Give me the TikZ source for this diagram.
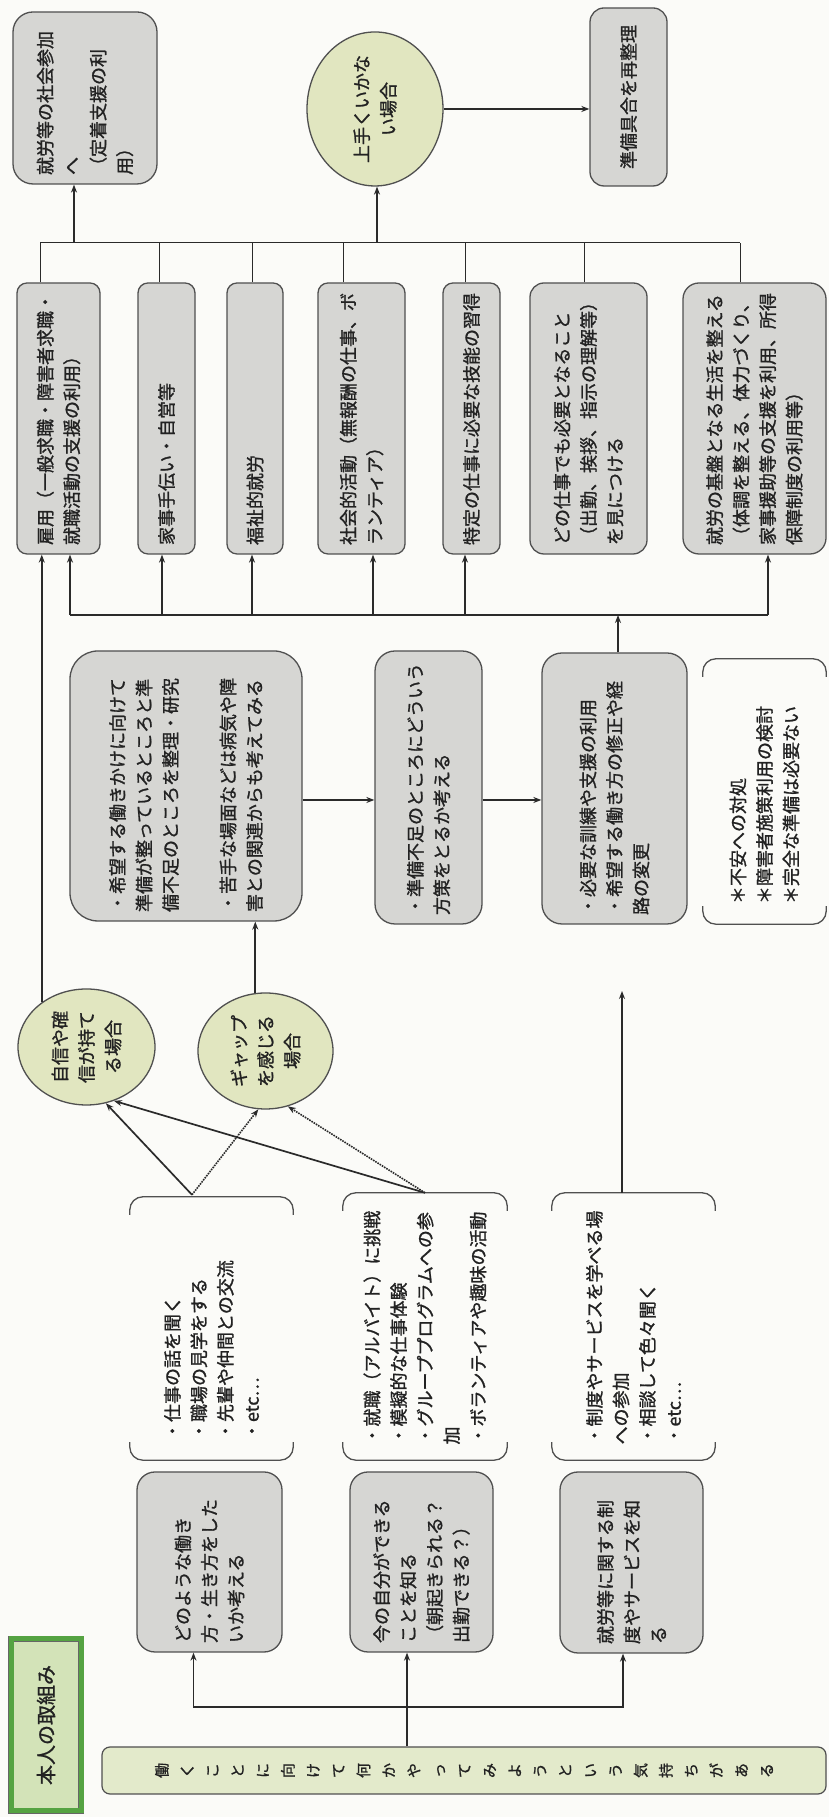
\documentclass[tikz,border=0pt]{standalone}
\usepackage{fontspec}
\usepackage{tikz}
\usetikzlibrary{shapes.geometric,arrows.meta,calc}
\newfontfamily\jpfont[FakeBold=1.2]{Noto Sans CJK JP}
\newcommand{\jpSize}[0]{\fontsize{18}{26.5}\selectfont}
\definecolor{pageBg}{HTML}{FBFBF8}
\definecolor{boxGray}{HTML}{D6D6D3}
\definecolor{edgeGray}{HTML}{505050}
\definecolor{ovalGreen}{HTML}{E1E6C0}
\definecolor{stripGreen}{HTML}{E3EACB}
\definecolor{titleGreen}{HTML}{D3E3B8}
\definecolor{bevelGreen}{HTML}{55A342}
\definecolor{lineDark}{HTML}{2A2A2A}
\definecolor{inkGray}{HTML}{222222}

\begin{document}
\begin{tikzpicture}[x=1pt, y=1pt]
  \tikzset{
    jp/.style={font=\jpfont\jpSize, text=inkGray},
    boxSize/.style n args={3}{minimum width=#1pt, minimum height=#2pt, text width=#3pt},
    grayBox/.style={jp, draw=edgeGray, fill=boxGray, line width=1.3pt, rounded corners=#1, align=left, inner sep=9pt},
    grayBox/.default=12pt,
    ovalNode/.style={jp, ellipse, draw=edgeGray, fill=ovalGreen, line width=1.3pt, align=center, inner sep=0pt},
    listNode/.style={jp, align=left, inner sep=0pt},
    titleBox/.style={font=\jpfont\fontsize{20}{24}\selectfont, text=inkGray, fill=titleGreen, draw=black!60, double=bevelGreen, double distance=5pt, line width=0.8pt, minimum width=172pt, minimum height=70pt},
    stripBox/.style={font=\jpfont\fontsize{15}{25.2}\selectfont, text=inkGray, fill=stripGreen, draw=edgeGray, line width=1.2pt, rounded corners=8pt, minimum width=47pt, minimum height=724pt, align=center, inner sep=0pt},
    bracketLine/.style={draw=edgeGray, line width=1.3pt, rounded corners=13pt},
    busLine/.style={draw=lineDark, line width=1pt},
    mainLine/.style={draw=lineDark, line width=1.7pt},
    arr/.style={mainLine, -{Stealth[length=8pt, width=6pt]}},
    dotArr/.style={arr, line width=1.6pt, densely dotted},
  }
  \useasboundingbox (0,0) rectangle (829,1817);
  \fill[pageBg] (0,0) rectangle (829,1817);
  \begin{scope}[rotate=90, transform shape]
    \node[titleBox] (T) at (92,-46) {本人の取組み};
    \node[stripBox] (S) at (46.5,-464) {働\\く\\こ\\と\\に\\向\\け\\て\\何\\か\\や\\っ\\て\\み\\よ\\う\\と\\い\\う\\気\\持\\ち\\が\\あ\\る};

    \node[grayBox=18pt, boxSize={180}{145}{162}] (B1) at (255,-209.5) {どのような働き\\方・生き方をした\\いか考える};
    \node[grayBox=18pt, boxSize={180}{143}{162}] (B2) at (255,-421.5) {今の自分ができる\\ことを知る\\（朝起きられる？\\出勤できる？）};
    \node[grayBox=18pt, boxSize={181}{143}{163}] (B3) at (254.5,-631.5) {就労等に関する制\\度やサービスを知\\る};

    \node[listNode, boxSize={263}{163}{223}] (G1) at (488.5,-211.5) {・仕事の話を聞く\\・職場の見学をする\\・先輩や仲間との交流\\・etc…};
    \node[listNode, boxSize={267}{164}{236}] (G2) at (490.5,-425) {・就職（アルバイト）に挑戦\\・模擬的な仕事体験\\・グループプログラムへの参\\加\\・ボランティアや趣味の活動};
    \node[listNode, boxSize={267}{163}{236}] (G3) at (490.5,-633.5) {・制度やサービスを学べる場\\への参加\\・相談して色々聞く\\・etc…};

    \node[ovalNode, minimum width=116pt, minimum height=137pt] (E1) at (770,-86.5) {自信や確\\信が持て\\る場合};
    \node[ovalNode, minimum width=116pt, minimum height=135pt] (E2) at (766,-265.5) {ギャップ\\を感じる\\場合};

    \node[grayBox=28pt, boxSize={270}{232}{252}] (H) at (1031,-186) {・希望する働きかけに向けて\\準備が整っているところと準\\備不足のところを整理・研究\\[31pt]・苦手な場面などは病気や障\\害との関連からも考えてみる};
    \node[grayBox=20pt, boxSize={273}{107}{255}] (P) at (1029.5,-428.5) {・準備不足のところにどういう\\方策をとるか考える};
    \node[grayBox=20pt, boxSize={271}{145}{253}] (N) at (1028.5,-614.5) {・必要な訓練や支援の利用\\・希望する働き方の修正や経\\路の変更};
    \node[listNode, boxSize={265}{123}{225}] (Q) at (1025.5,-764.5) {＊不安への対処\\＊障害者施策利用の検討\\＊完全な準備は必要ない};

    \node[grayBox=10pt, boxSize={271}{83}{253}] (b1) at (1398.5,-58.5) {雇用（一般求職・障害者求職・\\就職活動の支援の利用）};
    \node[grayBox=10pt, boxSize={271}{57}{253}] (b2) at (1398.5,-166.5) {家事手伝い・自営等};
    \node[grayBox=10pt, boxSize={271}{56}{253}] (b3) at (1398.5,-255) {福祉的就労};
    \node[grayBox=10pt, boxSize={271}{87}{253}] (b4) at (1398.5,-361.5) {社会的活動（無報酬の仕事、ボ\\ランティア）};
    \node[grayBox=10pt, boxSize={271}{57}{253}] (b5) at (1398.5,-471.5) {特定の仕事に必要な技能の習得};
    \node[grayBox=14pt, boxSize={271}{117}{253}] (b6) at (1398.5,-588.5) {どの仕事でも必要となること\\（出勤、挨拶、指示の理解等）\\を見につける};
    \node[grayBox=16pt, boxSize={271}{143}{253}] (b7) at (1398.5,-754.5) {就労の基盤となる生活を整える\\（体調を整える、体力づくり、\\家事援助等の支援を利用、所得\\保障制度の利用等）};

    \node[grayBox=20pt, boxSize={172}{144}{154}] (A) at (1719,-85) {就労等の社会参加\\へ\\（定着支援の利\\用）};
    \node[ovalNode, minimum width=154pt, minimum height=136pt] (C) at (1708,-375) {上手くいかな\\い場合};
    \node[grayBox=14pt, boxSize={178}{77}{160}, align=center] (R) at (1720,-628.5) {準備具合を再整理};

    \foreach \g in {G1,G2,G3,Q} {
      \draw[bracketLine] ($(\g.north west)+(18,0)$) -- (\g.north west) -- (\g.south west) -- ($(\g.south west)+(18,0)$);
      \draw[bracketLine] ($(\g.north east)+(-18,0)$) -- (\g.north east) -- (\g.south east) -- ($(\g.south east)+(-18,0)$);
    }

    \coordinate (fork) at (110,-407);
    \draw[arr] (S.east |- fork) -- (fork -| B2.west);
    \draw[arr] (fork) |- ($(B1.west)+(0,16)$);
    \draw[arr] (fork) |- ($(B3.west)+(0,8.5)$);

    \coordinate (g1top) at ($(G1.east)+(2,19.5)$);
    \draw[arr] (g1top) -- (E1.199);
    \draw[dotArr] (g1top) -- (E2.173);
    \draw[arr] (G2.east) -- (E1.207);
    \draw[dotArr] (G2.east) -- (E2.202);

    \coordinate (g3tip) at (826,-622);
    \draw[arr] (g3tip -| G3.east) -- (g3tip);

    \draw[arr] (E1.45) -- (E1.45 -| b1.west);
    \draw[arr] (E2.10) -- (E2.10 -| H.west);

    \coordinate (midrow) at (1017,0);
    \draw[arr] (H.south -| midrow) -- (P.north -| midrow);
    \draw[arr] (P.south -| midrow) -- (N.north -| midrow);

    \foreach \n/\v in {1/-70,2/-162,3/-252,4/-373,5/-465,7/-768} {
      \coordinate (dn\n) at (1202,\v);
      \draw[arr] (dn\n) -- (dn\n -| b\n.west);
    }
    \draw[mainLine] (dn1) -- (dn7);
    \coordinate (dn6) at (1202,-618);
    \draw[arr] (dn6 -| N.east) -- (dn6);

    \foreach \n/\v in {1/-40,2/-159,3/-252,4/-343,5/-465,6/-584,7/-740} {
      \coordinate (up\n) at (1574,\v);
      \draw[busLine] (b\n.east |- up\n) -- (up\n);
    }
    \draw[busLine] (up1) -- (up7);
    \coordinate (upA) at (1574,-74);
    \draw[arr] (upA) -- (upA -| A.west);
    \coordinate (upC) at (1574,-377);
    \draw[arr] (upC) -- (upC -| C.west);
    \draw[arr] (C.south) -- (C.south |- R.north);
  \end{scope}
\end{tikzpicture}
\end{document}
